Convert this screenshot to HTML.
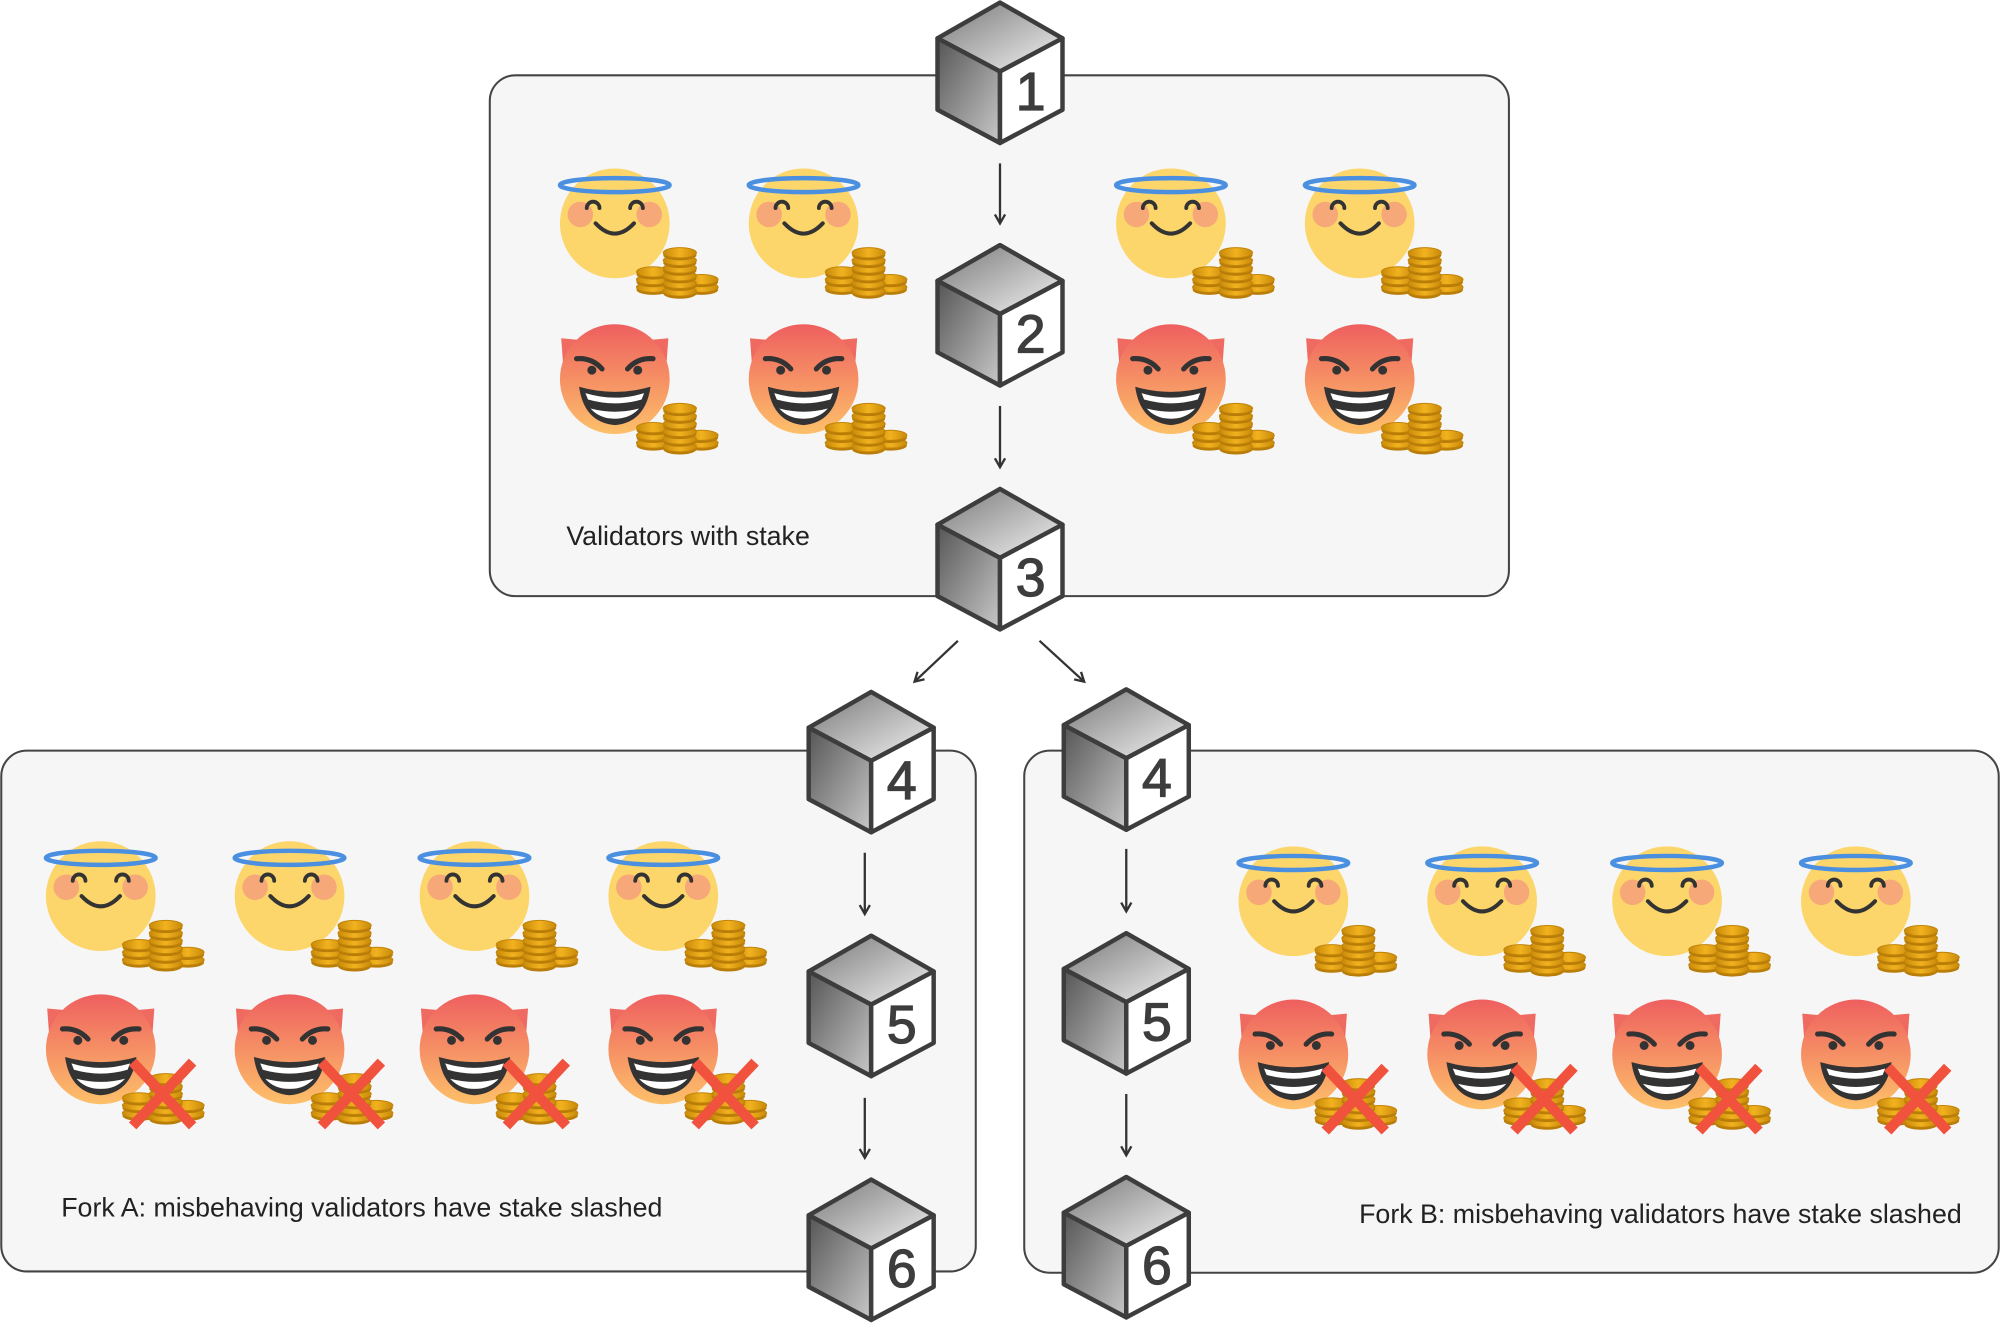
<!DOCTYPE html>
<html><head><meta charset="utf-8"><style>
html,body{margin:0;padding:0;background:#fff;}
svg{display:block;}
text{font-family:"Liberation Sans",sans-serif;}
</style></head><body>
<svg width="2000" height="1334" viewBox="0 0 1568 1045" preserveAspectRatio="none" xmlns="http://www.w3.org/2000/svg">
<defs>
<linearGradient id="tg" x1="0" y1="0" x2="1" y2="1"><stop offset="0" stop-color="#777"/><stop offset="1" stop-color="#f4f4f4"/></linearGradient>
<linearGradient id="lg" x1="0" y1="0" x2="1" y2="1"><stop offset="0" stop-color="#555"/><stop offset="1" stop-color="#c8c8c8"/></linearGradient>
<linearGradient id="dg" x1="0" y1="0" x2="0" y2="1"><stop offset="0" stop-color="#ee5f5f"/><stop offset="1" stop-color="#fdc06a"/></linearGradient>
<linearGradient id="cg" x1="0" y1="0" x2="1" y2="0"><stop offset="0" stop-color="#c88a0a"/><stop offset="0.5" stop-color="#f2b21f"/><stop offset="1" stop-color="#c88a0a"/></linearGradient>
<marker id="ah" markerWidth="10" markerHeight="10" refX="8" refY="5" orient="auto" markerUnits="userSpaceOnUse"><path d="M1,1 L8,5 L1,9" fill="none" stroke="#333" stroke-width="1.8"/></marker>
<g id="coin"><ellipse cx="0" cy="2" rx="13" ry="4" fill="#b87c08"/><ellipse cx="0" cy="0" rx="13" ry="4" fill="url(#cg)" stroke="#c28408" stroke-width="0.8"/></g>
<g id="coins">
<use href="#coin" x="30" y="50"/><use href="#coin" x="30" y="44"/><use href="#coin" x="30" y="38"/>
<use href="#coin" x="68" y="50"/><use href="#coin" x="68" y="44"/>
<use href="#coin" x="51" y="53"/><use href="#coin" x="51" y="47"/><use href="#coin" x="51" y="41"/><use href="#coin" x="51" y="35"/><use href="#coin" x="51" y="29"/><use href="#coin" x="51" y="23"/>
</g>
<g id="angel">
<circle cx="0" cy="0" r="43" fill="#fcd66b"/>
<path d="M10,-42 A43,43 0 0 1 12,41 A43,43 0 0 0 10,-42Z" fill="#f8c95a"/>
<circle cx="-27" cy="-7" r="10" fill="#f6a878"/><circle cx="27" cy="-7" r="10" fill="#f6a878"/>
<path d="M-22,-12 a5,5 0 0 1 10,0 M12,-12 a5,5 0 0 1 10,0" fill="none" stroke="#333" stroke-width="3" stroke-linecap="round"/>
<path d="M-15,0 Q0,16 15,0" fill="none" stroke="#333" stroke-width="3.2" stroke-linecap="round"/>
<ellipse cx="0" cy="-30" rx="43" ry="5.5" fill="none" stroke="#4a8fe0" stroke-width="3.5"/>
<use href="#coins"/>
</g>
<g id="devilface">
<path d="M-42,-32 L-40,-5 L-20,-30Z M42,-32 L40,-5 L20,-30Z" fill="#ef6a60"/>
<circle cx="0" cy="0" r="43" fill="url(#dg)"/>
<path d="M-30,-16 Q-18,-17 -10,-8 M30,-16 Q18,-17 10,-8" fill="none" stroke="#333" stroke-width="4" stroke-linecap="round"/>
<circle cx="-18" cy="-7" r="3.5" fill="#333"/><circle cx="18" cy="-7" r="3.5" fill="#333"/>
<path d="M-28,6 Q0,14 28,6 Q24,34 0,36 Q-24,34 -28,6Z" fill="#333"/>
<path d="M-23,11 Q0,18 23,11 L21,16 Q0,22 -21,16Z M-19,23 Q0,28 19,23 Q12,31 0,31 Q-12,31 -19,23Z" fill="#fff"/>
</g>
<g id="devil"><use href="#devilface"/><use href="#coins"/></g>
<g id="devilx"><use href="#devilface"/><use href="#coins"/>
<path d="M25,10 L72,60 M72,10 L25,60" stroke="#f0523e" stroke-width="8"/></g>
<g id="cube" stroke="#3d3d3d" stroke-width="3.5" stroke-linejoin="round">
<path d="M0,0 L49,28 L0,54 L-49,28Z" fill="url(#tg)"/>
<path d="M-49,28 L0,54 L0,110 L-49,84Z" fill="url(#lg)"/>
<path d="M0,54 L49,28 L49,84 L0,110Z" fill="#fff"/>
</g>
</defs>
<g fill="#f6f6f6" stroke="#444" stroke-width="1.6">
<rect x="384" y="59" width="799" height="408" rx="20"/>
<rect x="1" y="588" width="764" height="408" rx="20"/>
<rect x="803" y="588" width="764" height="409" rx="20"/>
</g>
<g stroke="#333" stroke-width="1.8" marker-end="url(#ah)">
<line x1="784" y1="128" x2="784" y2="175"/><line x1="784" y1="318" x2="784" y2="366"/>
<line x1="751" y1="502" x2="717" y2="534"/><line x1="815" y1="502" x2="850" y2="534"/>
<line x1="678" y1="668" x2="678" y2="716"/><line x1="678" y1="860" x2="678" y2="907"/>
<line x1="883" y1="665" x2="883" y2="714"/><line x1="883" y1="857" x2="883" y2="905"/>
</g>
<use href="#angel" x="482" y="175"/><use href="#angel" x="630" y="175"/><use href="#angel" x="918" y="175"/><use href="#angel" x="1066" y="175"/>
<use href="#devil" x="482" y="297"/><use href="#devil" x="630" y="297"/><use href="#devil" x="918" y="297"/><use href="#devil" x="1066" y="297"/>
<use href="#angel" x="79" y="702"/><use href="#angel" x="227" y="702"/><use href="#angel" x="372" y="702"/><use href="#angel" x="520" y="702"/>
<use href="#devilx" x="79" y="822"/><use href="#devilx" x="227" y="822"/><use href="#devilx" x="372" y="822"/><use href="#devilx" x="520" y="822"/>
<use href="#angel" x="1014" y="706"/><use href="#angel" x="1162" y="706"/><use href="#angel" x="1307" y="706"/><use href="#angel" x="1455" y="706"/>
<use href="#devilx" x="1014" y="826"/><use href="#devilx" x="1162" y="826"/><use href="#devilx" x="1307" y="826"/><use href="#devilx" x="1455" y="826"/>
<g font-size="42" fill="#3d3d3d" text-anchor="middle" stroke="#3d3d3d" stroke-width="1">
<use href="#cube" x="784" y="2"/><text x="808" y="86">1</text>
<use href="#cube" x="784" y="192"/><text x="808" y="276">2</text>
<use href="#cube" x="784" y="383"/><text x="808" y="467">3</text>
<use href="#cube" x="683" y="542"/><text x="707" y="626">4</text>
<use href="#cube" x="683" y="733"/><text x="707" y="817">5</text>
<use href="#cube" x="683" y="924"/><text x="707" y="1008">6</text>
<use href="#cube" x="883" y="540"/><text x="907" y="624">4</text>
<use href="#cube" x="883" y="731"/><text x="907" y="815">5</text>
<use href="#cube" x="883" y="922"/><text x="907" y="1006">6</text>
</g>
<g font-size="21" fill="#222">
<text x="444" y="427">Validators with stake</text>
<text x="48" y="953">Fork A: misbehaving validators have stake slashed</text>
<text x="1538" y="958" text-anchor="end">Fork B: misbehaving validators have stake slashed</text>
</g>
</svg>
</body></html>
